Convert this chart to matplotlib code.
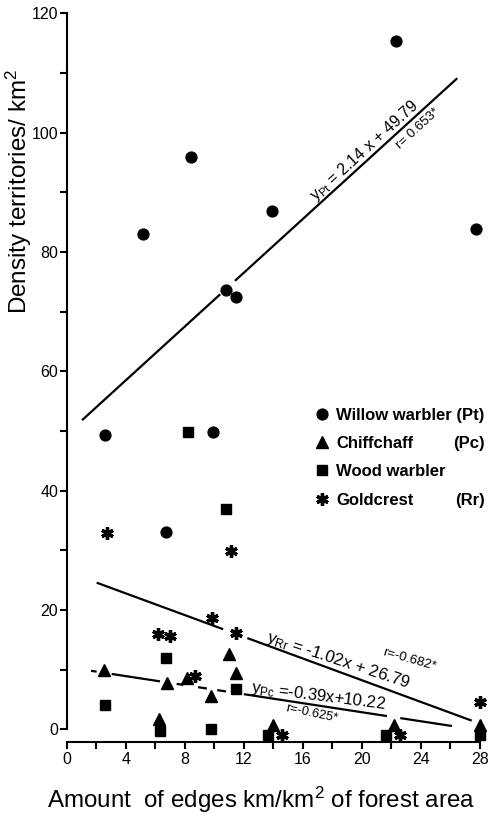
import numpy as np
import matplotlib
matplotlib.use('Agg')
import matplotlib.pyplot as plt
from matplotlib.ticker import MultipleLocator

plt.rcParams['font.family'] = ['Liberation Sans', 'DejaVu Sans']
plt.rcParams['mathtext.fontset'] = 'custom'
plt.rcParams['mathtext.rm'] = 'Liberation Sans'
plt.rcParams['mathtext.it'] = 'Liberation Sans:italic'
plt.rcParams['mathtext.bf'] = 'Liberation Sans:bold'

# Willow warbler (Pt)
pt_x = [2.6, 5.2, 6.7, 8.4, 9.9, 10.8, 11.5, 13.9, 22.3, 27.7]
pt_y = [49.4, 83.0, 33.0, 95.9, 49.8, 73.6, 72.4, 86.9, 115.3, 83.9]
# Chiffchaff (Pc)
pc_x = [2.5, 6.25, 6.8, 8.17, 9.8, 11.0, 11.5, 14.0, 22.2, 28.0]
pc_y = [9.9, 1.7, 7.8, 8.65, 5.6, 12.6, 9.5, 0.8, 0.8, 0.8]
# Wood warbler
ww_x = [2.6, 6.3, 6.75, 8.2, 9.8, 10.8, 11.5, 13.65, 21.65, 28.0]
ww_y = [4.1, -0.3, 11.9, 49.8, 0.1, 36.9, 6.7, -1.0, -0.9, -1.0]
# Goldcrest (Rr)
rr_x = [2.7, 6.2, 7.0, 8.7, 9.85, 11.1, 11.5, 14.6, 22.6, 28.0]
rr_y = [32.9, 15.9, 15.7, 8.9, 18.6, 29.8, 16.1, -0.9, -0.9, 4.5]

# regression lines as drawn (end points) and the breaks in them
pt_fit_x, pt_fit_y = [1.04, 26.46], [51.8, 109.1]
rr_fit_x, rr_fit_y = [2.03, 27.44], [24.57, 1.45]
pc_fit_x, pc_fit_y = [1.65, 26.1], [9.8, 0.55]
pt_gaps = [(10.4, 11.4)]
rr_gaps = [(10.6, 12.24)]
pc_gaps = [(2.03, 3.05), (6.32, 7.45), (7.9, 8.9), (9.5, 10.2), (10.8, 12.0), (21.7, 22.6)]

legend_labels = ['Willow warbler (Pt)', 'Chiffchaff', 'Wood warbler', 'Goldcrest']
legend_abbr = {1: '(Pc)', 3: '(Rr)'}


def draw_fit(ax, fx, fy, gaps):
    edges = [fx[0]]
    for a, b in gaps:
        edges += [a, b]
    edges.append(fx[1])
    for i in range(0, len(edges), 2):
        xs = np.array([edges[i], edges[i + 1]])
        ax.plot(xs, np.interp(xs, fx, fy), color='black', lw=1.6,
                solid_capstyle='butt', zorder=2)


def line_angle(ax, fx, fy):
    p = ax.transData.transform(np.column_stack([fx, fy]))
    return np.degrees(np.arctan2(p[1, 1] - p[0, 1], p[1, 0] - p[0, 0]))


fig = plt.figure(figsize=(4.9, 8.15), dpi=100)
ax = fig.add_axes([0.1361, 0.0898, 0.8615, 0.9013])
ax.set_xlim(0, 28.6)
ax.set_ylim(-2.1, 121)

draw_fit(ax, pt_fit_x, pt_fit_y, pt_gaps)
draw_fit(ax, rr_fit_x, rr_fit_y, rr_gaps)
draw_fit(ax, pc_fit_x, pc_fit_y, pc_gaps)

kw = dict(color='black', linestyle='none', clip_on=False, zorder=3)
h1, = ax.plot(pt_x, pt_y, marker='o', ms=7.8, **kw)
h2, = ax.plot(pc_x, pc_y, marker='^', ms=8.5, **kw)
h3, = ax.plot(ww_x, ww_y, marker='s', ms=6.8, **kw)
h4, = ax.plot(rr_x, rr_y, marker=(6, 2, 0), ms=9, mew=2.4, **kw)

# spines and ticks
for s in ['top', 'right']:
    ax.spines[s].set_visible(False)
ax.spines['left'].set_bounds(0, 120)
ax.spines['bottom'].set_bounds(0, 28)
for s in ['left', 'bottom']:
    ax.spines[s].set_linewidth(1.5)
ax.xaxis.set_major_locator(MultipleLocator(4))
ax.xaxis.set_minor_locator(MultipleLocator(2))
ax.yaxis.set_major_locator(MultipleLocator(20))
ax.yaxis.set_minor_locator(MultipleLocator(10))
ax.set_xticks(range(0, 29, 4))
ax.set_yticks(range(0, 121, 20))
ax.tick_params(which='both', direction='out', length=5, width=1.5)
ax.tick_params(axis='x', labelsize=11.5, pad=2)
ax.tick_params(axis='y', labelsize=11.5, pad=1)

ax.set_xlabel(r'Amount  of edges km/km$^{\mathrm{2}}$ of forest area', fontsize=17.4)
ax.xaxis.set_label_coords(0.46, -0.079)
ax.xaxis.label.set_va('center')
ax.set_ylabel(r'Density territories/ km$^{\mathrm{2}}$', fontsize=17.5)
ax.yaxis.set_label_coords(-0.113, 0.75)
ax.yaxis.label.set_va('center')

# regression labels
a_pt = line_angle(ax, pt_fit_x, pt_fit_y)
a_rr = line_angle(ax, rr_fit_x, rr_fit_y)
a_pc = line_angle(ax, pc_fit_x, pc_fit_y)

x0 = 20.4
ax.text(x0, np.interp(x0, pt_fit_x, pt_fit_y) + 0.9, r'$\mathrm{y_{Pt}}$ = 2.14 x + 49.79',
        fontsize=11.5, rotation=a_pt, rotation_mode='anchor', ha='center', va='baseline')
x0 = 23.5
ax.text(x0, np.interp(x0, pt_fit_x, pt_fit_y) - 1.0, r'r= 0.653*',
        fontsize=9.5, rotation=a_pt, rotation_mode='anchor', ha='center', va='top')

x0 = 18.3
ax.text(x0, np.interp(x0, rr_fit_x, rr_fit_y) + 1.1, r'$\mathrm{y_{Rr}}$ = -1.02x + 26.79',
        fontsize=12.2, rotation=a_rr + 2, rotation_mode='anchor', ha='center', va='baseline')
ax.text(23.2, 11.6, r'r=-0.682*', fontsize=9.5, rotation=-16,
        rotation_mode='anchor', ha='center', va='center')

x0 = 17.0
ax.text(x0, np.interp(x0, pc_fit_x, pc_fit_y) + 0.9, r'$\mathrm{y_{Pc}}$ =-0.39x+10.22',
        fontsize=12, rotation=a_pc + 1.5, rotation_mode='anchor', ha='center', va='baseline')
ax.text(16.6, 2.6, r'r=-0.625*', fontsize=9.2, rotation=-12,
        rotation_mode='anchor', ha='center', va='center')

leg = ax.legend([h1, h2, h3, h4], legend_labels, loc='upper left',
                bbox_to_anchor=(0.589, 0.455), frameon=False, borderpad=0,
                borderaxespad=0, handlelength=0.75, handletextpad=0.5,
                labelspacing=0.8, prop=dict(size=12, weight='bold'))

fig.canvas.draw()
texts = leg.get_texts()
right = texts[0].get_window_extent().x1
W, H = fig.canvas.get_width_height()
for i, abbr in legend_abbr.items():
    bb = texts[i].get_window_extent()
    fig.text(right / W, (bb.y0 + bb.y1) / 2 / H, abbr, ha='right', va='center',
             fontsize=12, fontweight='bold')

fig.savefig('out.png', dpi=100)
